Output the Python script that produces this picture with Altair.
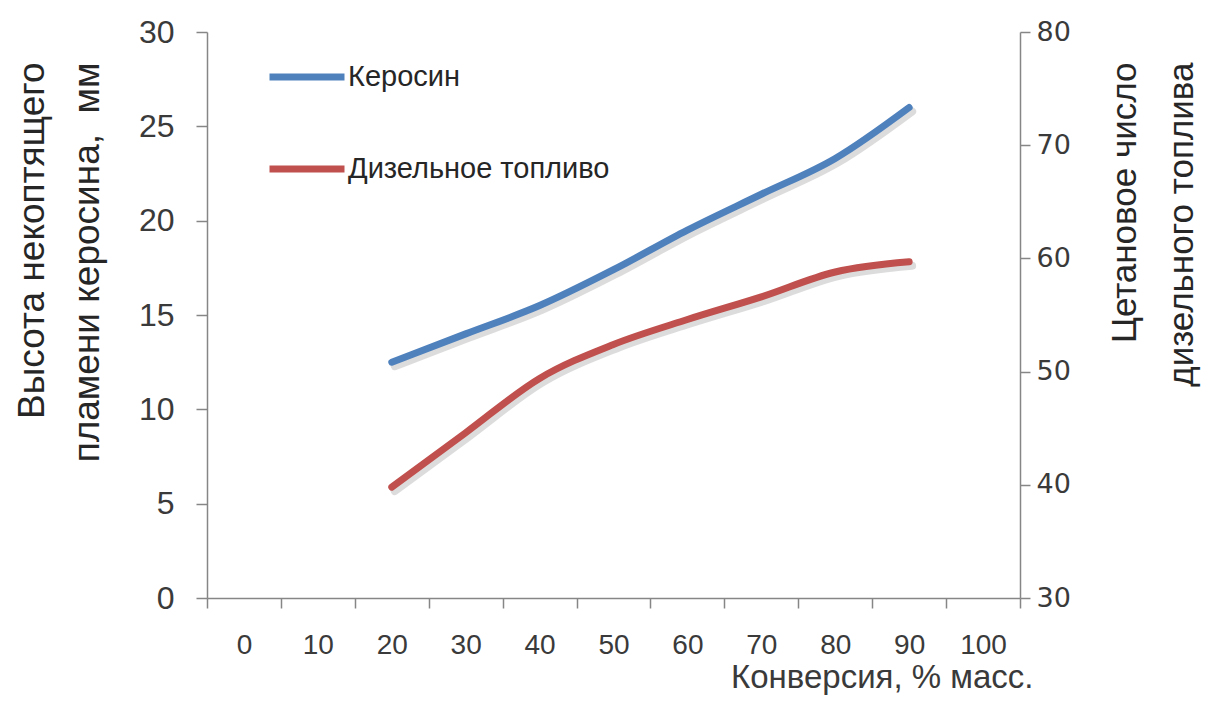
import altair as alt
import pandas as pd

categories = [0, 10, 20, 30, 40, 50, 60, 70, 80, 90, 100]
conversion = [20, 30, 40, 50, 60, 70, 80, 90]
kerosene = [12.5, 14.0, 15.5, 17.4, 19.5, 21.4, 23.3, 26.0]
diesel = [39.8, 44.6, 49.4, 52.4, 54.6, 56.6, 58.8, 59.7]
series_names = ["Керосин", "Дизельное топливо"]
colors = ["#4F81BD", "#C0504D"]

left_ticks = [0, 5, 10, 15, 20, 25, 30]
right_ticks = [30, 40, 50, 60, 70, 80]

df = pd.DataFrame({
    "conv": conversion + conversion,
    "value": kerosene + diesel,
    "series": [series_names[0]] * len(conversion) + [series_names[1]] * len(conversion),
})

W, H = 813, 566
AX = "#868686"
NARROW = "Liberation Sans Narrow, Arial Narrow, Liberation Sans"
TITLE_FONT = "Liberation Sans, Arial"

x_enc = alt.X(
    "conv:O",
    scale=alt.Scale(type="band", domain=categories, paddingInner=0, paddingOuter=0),
    axis=alt.Axis(
        title="Конверсия, % масс.",
        labelAngle=0,
        tickBand="extent",
        tickSize=10,
        tickColor=AX,
        tickWidth=1.5,
        domainColor=AX,
        domainWidth=1.5,
        labelFont=NARROW,
        labelFontSize=28,
        labelColor="#3a3a3a",
        labelPadding=23,
        titleFont=NARROW,
        titleFontSize=33,
        titleFontWeight="normal",
        titleColor="#3a3a3a",
        titleAlign="right",
        titleBaseline="alphabetic",
        titleX=826,
        titleY=89,
        grid=False,
    ),
)

left_axis = alt.Axis(
    title=["Высота некоптящего", "пламени керосина,\u00a0 мм"],
    values=left_ticks,
    tickSize=11,
    tickColor=AX,
    tickWidth=1.5,
    domainColor=AX,
    domainWidth=1.5,
    labelFont=NARROW,
    labelFontSize=32,
    labelColor="#3a3a3a",
    labelPadding=22,
    titleFont=TITLE_FONT,
    titleFontSize=37,
    titleFontWeight="normal",
    titleColor="#262626",
    titleAngle=270,
    titleAlign="right",
    titleBaseline="top",
    titleLineHeight=55,
    titleX=-193,
    titleY=30,
    grid=False,
)

right_axis = alt.Axis(
    title=["Цетановое число", "дизельного топлива"],
    orient="right",
    values=right_ticks,
    tickSize=10,
    tickColor=AX,
    tickWidth=1.5,
    domainColor=AX,
    domainWidth=1.5,
    labelFont="DejaVu Sans",
    labelFontSize=27,
    labelColor="#3a3a3a",
    labelPadding=6,
    titleFont=TITLE_FONT,
    titleFontSize=35,
    titleFontWeight="normal",
    titleColor="#262626",
    titleAngle=270,
    titleAlign="right",
    titleBaseline="top",
    titleLineHeight=57,
    titleX=87,
    titleY=30,
    grid=False,
)

color_enc = alt.Color(
    "series:N",
    scale=alt.Scale(domain=series_names, range=colors),
    legend=alt.Legend(title=None),
)

base = alt.Chart(df)


def series_layer(name, y_scale, axis):
    y_enc = alt.Y("value:Q", scale=y_scale, axis=axis)
    shadow = base.transform_filter(alt.datum.series == name).mark_line(
        interpolate="monotone", strokeWidth=8, color="#9a9a9a", opacity=0.35,
        xOffset=3, yOffset=4, strokeCap="round",
    ).encode(x=x_enc, y=y_enc, detail="series:N")
    line = base.transform_filter(alt.datum.series == name).mark_line(
        interpolate="monotone", strokeWidth=7, strokeCap="round",
    ).encode(x=x_enc, y=y_enc, color=color_enc)
    return alt.layer(shadow, line)


left = series_layer(series_names[0], alt.Scale(domain=[0, 30], nice=False, zero=False), left_axis)
right = series_layer(series_names[1], alt.Scale(domain=[30, 80], nice=False, zero=False), right_axis)

chart = (
    alt.layer(left, right)
    .resolve_scale(y="independent")
    .properties(
        width=W,
        height=H,
        autosize=alt.AutoSizeParams(type="none"),
        padding={"left": 207, "top": 32, "right": 191, "bottom": 103},
        background="white",
    )
    .configure_view(stroke=None)
    .configure_legend(
        orient="none",
        legendX=59,
        legendY=4,
        direction="vertical",
        padding=0,
        symbolType="stroke",
        symbolSize=5625,
        symbolStrokeWidth=7,
        rowPadding=36,
        labelFont=NARROW,
        labelFontSize=29,
        labelColor="#262626",
        labelOffset=0,
        labelLimit=0,
    )
)

chart.save("out.html", embed_options={"renderer": "svg", "actions": False})
